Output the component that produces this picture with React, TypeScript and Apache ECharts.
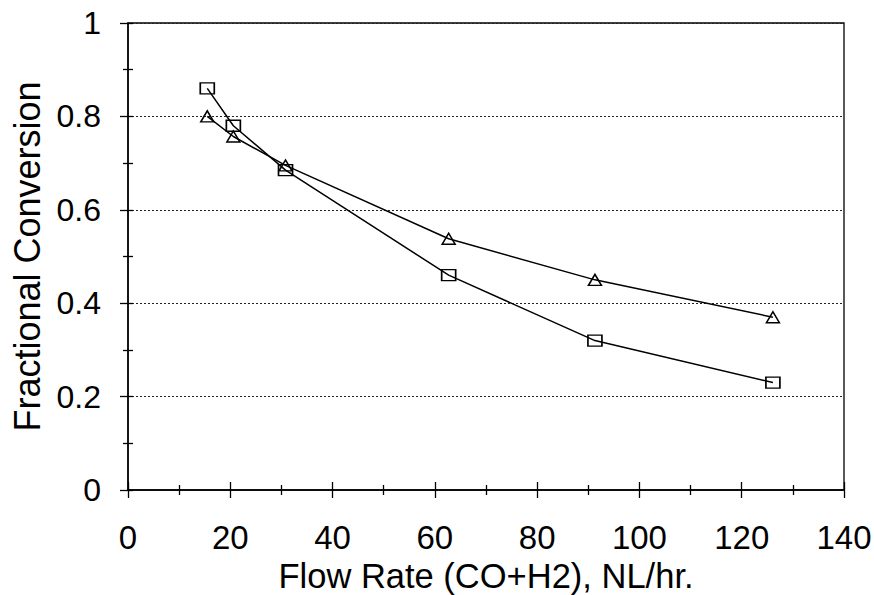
import React, { useEffect, useRef } from "react";
import * as echarts from "echarts";

const flowRates = [15.5, 20.6, 30.8, 62.7, 91.3, 126.1];
const squareSeries = [0.86, 0.78, 0.685, 0.46, 0.32, 0.23];
const triangleSeries = [0.8, 0.757, 0.695, 0.538, 0.45, 0.37];
const xTicks = { min: 0, max: 140, interval: 20 };
const yTicks = { min: 0, max: 1, interval: 0.2 };

const FONT = "'Liberation Sans', Arial, sans-serif";

export default function App() {
  const ref = useRef<HTMLDivElement>(null);
  useEffect(() => {
    if (!ref.current) return;
    const chart = echarts.init(ref.current, undefined, { renderer: "svg" });
    const toPairs = (ys: number[]) => flowRates.map((x, i) => [x, ys[i]]);
    const baseTick = { lineStyle: { color: "#000", width: 1.3 } };
    chart.setOption({
      animation: false,
      backgroundColor: "#fff",
      grid: {
        left: 128,
        right: 30,
        top: 23,
        bottom: 105,
        show: true,
        borderColor: "#000",
        borderWidth: 1.3,
        backgroundColor: "transparent",
        outerBoundsMode: "none",
        containLabel: false,
      },
      xAxis: [
        {
          type: "value",
          ...xTicks,
          position: "bottom",
          name: "Flow Rate (CO+H2), NL/hr.",
          nameLocation: "middle",
          nameGap: 63,
          nameTextStyle: { fontFamily: FONT, fontSize: 34.5, color: "#000" },
          axisLine: { show: true, lineStyle: { color: "#000", width: 1.5 } },
          axisTick: { show: true, length: 8, ...baseTick },
          minorTick: { show: true, splitNumber: 2, length: 5, lineStyle: { color: "#000", width: 1.3 } },
          axisLabel: { fontFamily: FONT, fontSize: 33, color: "#000", margin: 31 },
          splitLine: { show: false },
        },
        {
          type: "value",
          ...xTicks,
          position: "bottom",
          axisLine: { show: false },
          axisTick: { show: true, inside: true, length: 8, ...baseTick },
          minorTick: { show: true, splitNumber: 2, length: 5, lineStyle: { color: "#000", width: 1.3 } },
          axisLabel: { show: false },
          splitLine: { show: false },
        },
      ],
      yAxis: [
        {
          type: "value",
          ...yTicks,
          position: "left",
          name: "Fractional Conversion",
          nameLocation: "middle",
          nameGap: 78,
          nameTextStyle: { fontFamily: FONT, fontSize: 36, color: "#000" },
          axisLine: { show: true, lineStyle: { color: "#000", width: 1.5 } },
          axisTick: { show: true, length: 8, ...baseTick },
          minorTick: { show: true, splitNumber: 2, length: 5, lineStyle: { color: "#000", width: 1.3 } },
          axisLabel: { fontFamily: FONT, fontSize: 32, color: "#000", margin: 27 },
          splitLine: { show: true, lineStyle: { color: "#222", width: 1.1, type: [2, 2] } },
        },
        {
          type: "value",
          ...yTicks,
          position: "left",
          axisLine: { show: false },
          axisTick: { show: true, inside: true, length: 5, ...baseTick },
          minorTick: { show: true, splitNumber: 2, length: 5, lineStyle: { color: "#000", width: 1.3 } },
          axisLabel: { show: false },
          splitLine: { show: false },
        },
      ],
      series: [
        {
          type: "line",
          name: "Squares",
          xAxisIndex: 0,
          yAxisIndex: 0,
          data: toPairs(squareSeries),
          symbol: "rect",
          symbolSize: [14, 11],
          showAllSymbol: true,
          lineStyle: { color: "#000", width: 1.5 },
          itemStyle: { color: "rgba(0,0,0,0)", borderColor: "#000", borderWidth: 1.5 },
        },
        {
          type: "line",
          name: "Triangles",
          xAxisIndex: 0,
          yAxisIndex: 0,
          data: toPairs(triangleSeries),
          symbol: "triangle",
          symbolSize: [13, 11],
          showAllSymbol: true,
          lineStyle: { color: "#000", width: 1.5 },
          itemStyle: { color: "rgba(0,0,0,0)", borderColor: "#000", borderWidth: 1.5 },
        },
      ],
    });
    return () => chart.dispose();
  }, []);
  return (
    <div
      ref={ref}
      style={{ position: "absolute", left: 0, top: 0, width: 874, height: 595, background: "#fff" }}
    />
  );
}
